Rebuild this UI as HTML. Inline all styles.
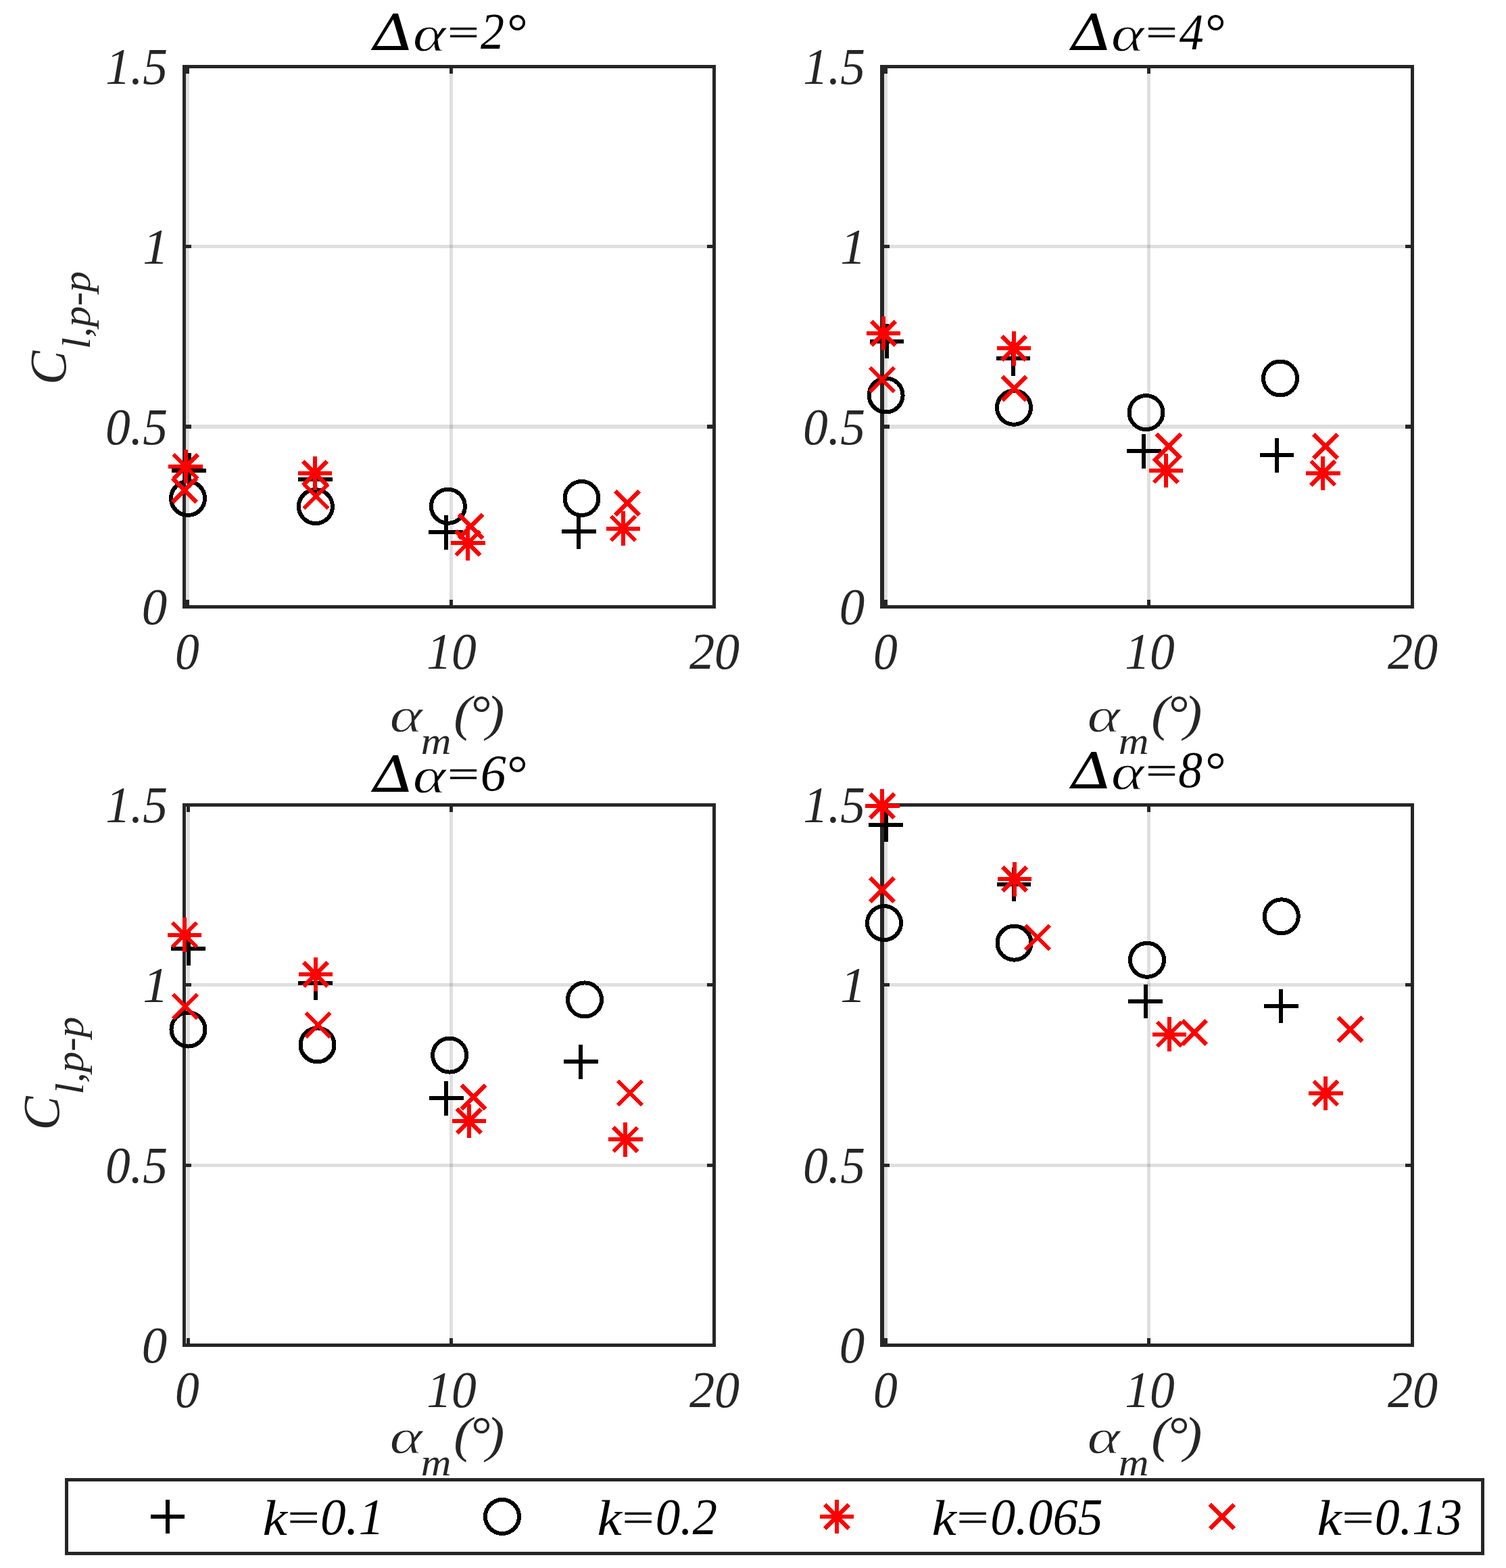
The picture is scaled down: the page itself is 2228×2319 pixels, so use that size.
<!DOCTYPE html>
<html lang="en">
<head>
<meta charset="utf-8">
<title>Peak-to-peak lift coefficient versus mean angle of attack</title>
<style>
html, body { margin: 0; padding: 0; background: #ffffff; }
body { width: 2228px; height: 2319px; }
svg { display: block; }
svg text { font-family: "Liberation Serif", "DejaVu Serif", serif; font-style: italic; }
</style>
</head>
<body>
<svg xmlns="http://www.w3.org/2000/svg" width="2228" height="2319" viewBox="0 0 2228 2319" role="img">
<desc>Four scatter plots of peak-to-peak lift coefficient C l,p-p against mean angle of attack αm(°) for Δα=2°, Δα=4°, Δα=6° and Δα=8°; legend: k=0.1, k=0.2, k=0.065, k=0.13.</desc>
<rect x="0" y="0" width="2228" height="2319" fill="#ffffff"/>
<g id="axes1">
<rect x="275" y="101" width="5" height="794" fill="#262626" fill-opacity="0.15"/>
<rect x="665" y="101" width="5" height="794" fill="#262626" fill-opacity="0.15"/>
<rect x="275" y="362" width="779" height="5" fill="#262626" fill-opacity="0.15"/>
<rect x="275" y="628" width="779" height="6" fill="#262626" fill-opacity="0.15"/>
<rect x="270" y="96" width="789" height="5" fill="#262626"/>
<rect x="270" y="895" width="789" height="5" fill="#262626"/>
<rect x="270" y="96" width="5" height="804" fill="#262626"/>
<rect x="1054" y="96" width="5" height="804" fill="#262626"/>
<rect x="275" y="101" width="5" height="8" fill="#262626"/>
<rect x="275" y="887" width="5" height="8" fill="#262626"/>
<rect x="665" y="101" width="5" height="8" fill="#262626"/>
<rect x="665" y="887" width="5" height="8" fill="#262626"/>
<rect x="275" y="362" width="8" height="5" fill="#262626"/>
<rect x="1046" y="362" width="8" height="5" fill="#262626"/>
<rect x="275" y="628" width="8" height="6" fill="#262626"/>
<rect x="1046" y="628" width="8" height="6" fill="#262626"/>
</g>
<g id="data1" shape-rendering="crispEdges">
<path d="M254.2 695.6H304.8M279.5 670.3V720.9" stroke="#000" stroke-width="6.0" fill="none"/>
<path d="M441 709H491.6M466.3 683.7V734.3" stroke="#000" stroke-width="6.0" fill="none"/>
<path d="M634.4 787.2H685M659.7 761.9V812.5" stroke="#000" stroke-width="6.0" fill="none"/>
<path d="M831 786.4H881.6M856.3 761.1V811.7" stroke="#000" stroke-width="6.0" fill="none"/>
<circle cx="278" cy="737" r="25" stroke="#000" stroke-width="6.0" fill="none"/>
<circle cx="466.9" cy="749.1" r="25" stroke="#000" stroke-width="6.0" fill="none"/>
<circle cx="662.9" cy="748.8" r="25" stroke="#000" stroke-width="6.0" fill="none"/>
<circle cx="860.5" cy="737" r="25" stroke="#000" stroke-width="6.0" fill="none"/>
<path d="M249.4 690.1H300M274.7 664.8V715.4M256.8 672.2L292.6 708M256.8 708L292.6 672.2" stroke="#f00" stroke-width="6.0" fill="none"/>
<path d="M440.8 700H491.4M466.1 674.7V725.3M448.2 682.1L484 717.9M448.2 717.9L484 682.1" stroke="#f00" stroke-width="6.0" fill="none"/>
<path d="M666.9 803.2H717.5M692.2 777.9V828.5M674.3 785.3L710.1 821.1M674.3 821.1L710.1 785.3" stroke="#f00" stroke-width="6.0" fill="none"/>
<path d="M896.7 781.7H947.3M922 756.4V807M904.1 763.8L939.9 799.6M904.1 799.6L939.9 763.8" stroke="#f00" stroke-width="6.0" fill="none"/>
<path d="M255.1 707.1L290.9 742.9M255.1 742.9L290.9 707.1" stroke="#f00" stroke-width="6.0" fill="none"/>
<path d="M449.5 716.1L485.3 751.9M449.5 751.9L485.3 716.1" stroke="#f00" stroke-width="6.0" fill="none"/>
<path d="M678.7 760.6L714.5 796.4M678.7 796.4L714.5 760.6" stroke="#f00" stroke-width="6.0" fill="none"/>
<path d="M910.1 726L945.9 761.8M910.1 761.8L945.9 726" stroke="#f00" stroke-width="6.0" fill="none"/>
</g>
<g id="labels1">
<text x="156.15" y="123.85" font-size="75.52" textLength="91.9" lengthAdjust="spacingAndGlyphs" fill="#262626">1.5</text>
<text x="211.21" y="389.86" font-size="74.12" textLength="37.91" lengthAdjust="spacingAndGlyphs" fill="#262626">1</text>
<text x="156.05" y="657.05" font-size="75.29" textLength="92" lengthAdjust="spacingAndGlyphs" fill="#262626">0.5</text>
<text x="209.8" y="923.3" font-size="75.67" textLength="37.5" lengthAdjust="spacingAndGlyphs" fill="#262626">0</text>
<text x="259.05" y="989.35" font-size="75.89" textLength="35.88" lengthAdjust="spacingAndGlyphs" fill="#262626">0</text>
<text x="631.15" y="989.35" font-size="75.89" textLength="73.68" lengthAdjust="spacingAndGlyphs" fill="#262626">10</text>
<text x="1019.9" y="989.35" font-size="75.89" textLength="74.29" lengthAdjust="spacingAndGlyphs" fill="#262626">20</text>
<text fill="#262626"><tspan x="576.55" y="1081.7" font-size="72.56" textLength="48.57" lengthAdjust="spacingAndGlyphs" stroke="#fff" stroke-width="0.8">α</tspan><tspan x="622.75" y="1114.95" font-size="57.77" textLength="44.8" lengthAdjust="spacingAndGlyphs">m</tspan><tspan x="671.15" y="1079.75" font-size="73.4" textLength="26.76" lengthAdjust="spacingAndGlyphs">(</tspan><tspan x="694.75" y="1080.8" font-size="76.49" textLength="30.59" lengthAdjust="spacingAndGlyphs">°</tspan><tspan x="719.55" y="1079.75" font-size="73.4" textLength="26.89" lengthAdjust="spacingAndGlyphs">)</tspan></text>
<text fill="#262626" transform="translate(97.4 568.7) rotate(-90)"><tspan x="-0.25" y="0" font-size="76.41" textLength="50.19" lengthAdjust="spacingAndGlyphs">C</tspan><tspan x="52.45" y="35.15" font-size="58.96" textLength="115.27" lengthAdjust="spacingAndGlyphs">l,p-p</tspan></text>
<g><text fill="#000" transform="matrix(1 0 -0.1584 1 11.483 0)"><tspan x="541.8" y="73.95" font-size="74.11" textLength="70.36" lengthAdjust="spacingAndGlyphs" style="font-family:'DejaVu Math TeX Gyre','DejaVu Serif','Liberation Serif',serif;font-style:normal">Δ</tspan></text><text fill="#000"><tspan x="610.65" y="74.6" font-size="74.68" textLength="48.79" lengthAdjust="spacingAndGlyphs" stroke="#fff" stroke-width="0.8">α</tspan><tspan x="656.9" y="66.6" font-size="58.09" textLength="55.68" lengthAdjust="spacingAndGlyphs" stroke="#000" stroke-width="0.6">=</tspan><tspan x="710.9" y="72.05" font-size="75.68" textLength="34.93" lengthAdjust="spacingAndGlyphs">2</tspan><tspan x="747.65" y="72.8" font-size="76.49" textLength="30.59" lengthAdjust="spacingAndGlyphs">°</tspan></text></g>
</g>
<g id="axes2">
<rect x="1308" y="101" width="5" height="794" fill="#262626" fill-opacity="0.15"/>
<rect x="1697" y="101" width="5" height="794" fill="#262626" fill-opacity="0.15"/>
<rect x="1308" y="362" width="779" height="5" fill="#262626" fill-opacity="0.15"/>
<rect x="1308" y="628" width="779" height="6" fill="#262626" fill-opacity="0.15"/>
<rect x="1302" y="96" width="790" height="5" fill="#262626"/>
<rect x="1302" y="895" width="790" height="5" fill="#262626"/>
<rect x="1302" y="96" width="6" height="804" fill="#262626"/>
<rect x="2087" y="96" width="5" height="804" fill="#262626"/>
<rect x="1308" y="101" width="5" height="8" fill="#262626"/>
<rect x="1308" y="887" width="5" height="8" fill="#262626"/>
<rect x="1697" y="101" width="5" height="8" fill="#262626"/>
<rect x="1697" y="887" width="5" height="8" fill="#262626"/>
<rect x="1308" y="362" width="8" height="5" fill="#262626"/>
<rect x="2079" y="362" width="8" height="5" fill="#262626"/>
<rect x="1308" y="628" width="8" height="6" fill="#262626"/>
<rect x="2079" y="628" width="8" height="6" fill="#262626"/>
</g>
<g id="data2" shape-rendering="crispEdges">
<path d="M1286.7 504.7H1337.3M1312 479.4V530" stroke="#000" stroke-width="6.0" fill="none"/>
<path d="M1473.7 530.4H1524.3M1499 505.1V555.7" stroke="#000" stroke-width="6.0" fill="none"/>
<path d="M1666.9 667.3H1717.5M1692.2 642V692.6" stroke="#000" stroke-width="6.0" fill="none"/>
<path d="M1863.7 673.3H1914.3M1889 648V698.6" stroke="#000" stroke-width="6.0" fill="none"/>
<circle cx="1310.6" cy="584.5" r="25" stroke="#000" stroke-width="6.0" fill="none"/>
<circle cx="1500" cy="602.8" r="25" stroke="#000" stroke-width="6.0" fill="none"/>
<circle cx="1695.5" cy="610.1" r="25" stroke="#000" stroke-width="6.0" fill="none"/>
<circle cx="1894" cy="559.5" r="25" stroke="#000" stroke-width="6.0" fill="none"/>
<path d="M1281.7 493H1332.3M1307 467.7V518.3M1289.1 475.1L1324.9 510.9M1289.1 510.9L1324.9 475.1" stroke="#f00" stroke-width="6.0" fill="none"/>
<path d="M1474.7 515.2H1525.3M1500 489.9V540.5M1482.1 497.3L1517.9 533.1M1482.1 533.1L1517.9 497.3" stroke="#f00" stroke-width="6.0" fill="none"/>
<path d="M1699.6 695.8H1750.2M1724.9 670.5V721.1M1707 677.9L1742.8 713.7M1707 713.7L1742.8 677.9" stroke="#f00" stroke-width="6.0" fill="none"/>
<path d="M1932 699.8H1982.6M1957.3 674.5V725.1M1939.4 681.9L1975.2 717.7M1939.4 717.7L1975.2 681.9" stroke="#f00" stroke-width="6.0" fill="none"/>
<path d="M1287.1 543.4L1322.9 579.2M1287.1 579.2L1322.9 543.4" stroke="#f00" stroke-width="6.0" fill="none"/>
<path d="M1482.5 556.6L1518.3 592.4M1482.5 592.4L1518.3 556.6" stroke="#f00" stroke-width="6.0" fill="none"/>
<path d="M1711.1 641.9L1746.9 677.7M1711.1 677.7L1746.9 641.9" stroke="#f00" stroke-width="6.0" fill="none"/>
<path d="M1943.1 642.1L1978.9 677.9M1943.1 677.9L1978.9 642.1" stroke="#f00" stroke-width="6.0" fill="none"/>
</g>
<g id="labels2">
<text x="1188.15" y="123.85" font-size="75.52" textLength="91.9" lengthAdjust="spacingAndGlyphs" fill="#262626">1.5</text>
<text x="1243.21" y="389.86" font-size="74.12" textLength="37.91" lengthAdjust="spacingAndGlyphs" fill="#262626">1</text>
<text x="1188.05" y="657.05" font-size="75.29" textLength="92" lengthAdjust="spacingAndGlyphs" fill="#262626">0.5</text>
<text x="1241.8" y="923.3" font-size="75.67" textLength="37.5" lengthAdjust="spacingAndGlyphs" fill="#262626">0</text>
<text x="1292.05" y="989.35" font-size="75.89" textLength="35.88" lengthAdjust="spacingAndGlyphs" fill="#262626">0</text>
<text x="1664.15" y="989.35" font-size="75.89" textLength="73.68" lengthAdjust="spacingAndGlyphs" fill="#262626">10</text>
<text x="2052.9" y="989.35" font-size="75.89" textLength="74.29" lengthAdjust="spacingAndGlyphs" fill="#262626">20</text>
<text fill="#262626"><tspan x="1608.55" y="1081.7" font-size="72.56" textLength="48.57" lengthAdjust="spacingAndGlyphs" stroke="#fff" stroke-width="0.8">α</tspan><tspan x="1654.75" y="1114.95" font-size="57.77" textLength="44.8" lengthAdjust="spacingAndGlyphs">m</tspan><tspan x="1703.15" y="1079.75" font-size="73.4" textLength="26.76" lengthAdjust="spacingAndGlyphs">(</tspan><tspan x="1726.75" y="1080.8" font-size="76.49" textLength="30.59" lengthAdjust="spacingAndGlyphs">°</tspan><tspan x="1751.55" y="1079.75" font-size="73.4" textLength="26.89" lengthAdjust="spacingAndGlyphs">)</tspan></text>
<g><text fill="#000" transform="translate(1033 0) matrix(1 0 -0.1584 1 11.483 0)"><tspan x="541.8" y="73.95" font-size="74.11" textLength="70.36" lengthAdjust="spacingAndGlyphs" style="font-family:'DejaVu Math TeX Gyre','DejaVu Serif','Liberation Serif',serif;font-style:normal">Δ</tspan></text><text fill="#000"><tspan x="1643.65" y="74.6" font-size="74.68" textLength="48.79" lengthAdjust="spacingAndGlyphs" stroke="#fff" stroke-width="0.8">α</tspan><tspan x="1689.9" y="66.6" font-size="58.09" textLength="55.68" lengthAdjust="spacingAndGlyphs" stroke="#000" stroke-width="0.6">=</tspan><tspan x="1744.75" y="72.95" font-size="76.06" textLength="36.02" lengthAdjust="spacingAndGlyphs">4</tspan><tspan x="1780.65" y="72.8" font-size="76.49" textLength="30.59" lengthAdjust="spacingAndGlyphs">°</tspan></text></g>
</g>
<g id="axes3">
<rect x="276" y="1193" width="5" height="794" fill="#262626" fill-opacity="0.15"/>
<rect x="665" y="1193" width="5" height="794" fill="#262626" fill-opacity="0.15"/>
<rect x="275" y="1454" width="779" height="5" fill="#262626" fill-opacity="0.15"/>
<rect x="275" y="1721" width="779" height="5" fill="#262626" fill-opacity="0.15"/>
<rect x="270" y="1188" width="789" height="5" fill="#262626"/>
<rect x="270" y="1987" width="789" height="5" fill="#262626"/>
<rect x="270" y="1188" width="5" height="804" fill="#262626"/>
<rect x="1054" y="1188" width="5" height="804" fill="#262626"/>
<rect x="276" y="1193" width="5" height="8" fill="#262626"/>
<rect x="276" y="1979" width="5" height="8" fill="#262626"/>
<rect x="665" y="1193" width="5" height="8" fill="#262626"/>
<rect x="665" y="1979" width="5" height="8" fill="#262626"/>
<rect x="275" y="1454" width="8" height="5" fill="#262626"/>
<rect x="1046" y="1454" width="8" height="5" fill="#262626"/>
<rect x="275" y="1721" width="8" height="5" fill="#262626"/>
<rect x="1046" y="1721" width="8" height="5" fill="#262626"/>
</g>
<g id="data3" shape-rendering="crispEdges">
<path d="M253.4 1402.8H304M278.7 1377.5V1428.1" stroke="#000" stroke-width="6.0" fill="none"/>
<path d="M441.4 1453.7H492M466.7 1428.4V1479" stroke="#000" stroke-width="6.0" fill="none"/>
<path d="M634.9 1624.2H685.5M660.2 1598.9V1649.5" stroke="#000" stroke-width="6.0" fill="none"/>
<path d="M833.9 1570.3H884.5M859.2 1545V1595.6" stroke="#000" stroke-width="6.0" fill="none"/>
<circle cx="278.5" cy="1522.5" r="25" stroke="#000" stroke-width="6.0" fill="none"/>
<circle cx="469.5" cy="1545.4" r="25" stroke="#000" stroke-width="6.0" fill="none"/>
<circle cx="665.1" cy="1560.6" r="25" stroke="#000" stroke-width="6.0" fill="none"/>
<circle cx="865" cy="1478.4" r="25" stroke="#000" stroke-width="6.0" fill="none"/>
<path d="M247.5 1382.5H298.1M272.8 1357.2V1407.8M254.9 1364.6L290.7 1400.4M254.9 1400.4L290.7 1364.6" stroke="#f00" stroke-width="6.0" fill="none"/>
<path d="M441.7 1441H492.3M467 1415.7V1466.3M449.1 1423.1L484.9 1458.9M449.1 1458.9L484.9 1423.1" stroke="#f00" stroke-width="6.0" fill="none"/>
<path d="M668.5 1658H719.1M693.8 1632.7V1683.3M675.9 1640.1L711.7 1675.9M675.9 1675.9L711.7 1640.1" stroke="#f00" stroke-width="6.0" fill="none"/>
<path d="M899.9 1685.2H950.5M925.2 1659.9V1710.5M907.3 1667.3L943.1 1703.1M907.3 1703.1L943.1 1667.3" stroke="#f00" stroke-width="6.0" fill="none"/>
<path d="M256.1 1470.6L291.9 1506.4M256.1 1506.4L291.9 1470.6" stroke="#f00" stroke-width="6.0" fill="none"/>
<path d="M452.6 1498.1L488.4 1533.9M452.6 1533.9L488.4 1498.1" stroke="#f00" stroke-width="6.0" fill="none"/>
<path d="M682.7 1604.6L718.5 1640.4M682.7 1640.4L718.5 1604.6" stroke="#f00" stroke-width="6.0" fill="none"/>
<path d="M914.1 1598.7L949.9 1634.5M914.1 1634.5L949.9 1598.7" stroke="#f00" stroke-width="6.0" fill="none"/>
</g>
<g id="labels3">
<text x="156.15" y="1215.85" font-size="75.52" textLength="91.9" lengthAdjust="spacingAndGlyphs" fill="#262626">1.5</text>
<text x="211.21" y="1481.86" font-size="74.12" textLength="37.91" lengthAdjust="spacingAndGlyphs" fill="#262626">1</text>
<text x="156.05" y="1749.05" font-size="75.29" textLength="92" lengthAdjust="spacingAndGlyphs" fill="#262626">0.5</text>
<text x="209.8" y="2015.3" font-size="75.67" textLength="37.5" lengthAdjust="spacingAndGlyphs" fill="#262626">0</text>
<text x="259.05" y="2081.35" font-size="75.89" textLength="35.88" lengthAdjust="spacingAndGlyphs" fill="#262626">0</text>
<text x="631.15" y="2081.35" font-size="75.89" textLength="73.68" lengthAdjust="spacingAndGlyphs" fill="#262626">10</text>
<text x="1019.9" y="2081.35" font-size="75.89" textLength="74.29" lengthAdjust="spacingAndGlyphs" fill="#262626">20</text>
<text fill="#262626"><tspan x="576.55" y="2148.7" font-size="72.56" textLength="48.57" lengthAdjust="spacingAndGlyphs" stroke="#fff" stroke-width="0.8">α</tspan><tspan x="622.75" y="2181.95" font-size="57.77" textLength="44.8" lengthAdjust="spacingAndGlyphs">m</tspan><tspan x="671.15" y="2146.75" font-size="73.4" textLength="26.76" lengthAdjust="spacingAndGlyphs">(</tspan><tspan x="694.75" y="2147.8" font-size="76.49" textLength="30.59" lengthAdjust="spacingAndGlyphs">°</tspan><tspan x="719.55" y="2146.75" font-size="73.4" textLength="26.89" lengthAdjust="spacingAndGlyphs">)</tspan></text>
<text fill="#262626" transform="translate(87.4 1671.2) rotate(-90)"><tspan x="-0.25" y="0" font-size="76.41" textLength="50.19" lengthAdjust="spacingAndGlyphs">C</tspan><tspan x="52.45" y="35.15" font-size="58.96" textLength="115.27" lengthAdjust="spacingAndGlyphs">l,p-p</tspan></text>
<g><text fill="#000" transform="translate(0 1097) matrix(1 0 -0.1584 1 11.483 0)"><tspan x="541.8" y="73.95" font-size="74.11" textLength="70.36" lengthAdjust="spacingAndGlyphs" style="font-family:'DejaVu Math TeX Gyre','DejaVu Serif','Liberation Serif',serif;font-style:normal">Δ</tspan></text><text fill="#000"><tspan x="610.65" y="1171.6" font-size="74.68" textLength="48.79" lengthAdjust="spacingAndGlyphs" stroke="#fff" stroke-width="0.8">α</tspan><tspan x="656.9" y="1163.6" font-size="58.09" textLength="55.68" lengthAdjust="spacingAndGlyphs" stroke="#000" stroke-width="0.6">=</tspan><tspan x="710.8" y="1169.35" font-size="76.27" textLength="37.94" lengthAdjust="spacingAndGlyphs">6</tspan><tspan x="747.65" y="1169.8" font-size="76.49" textLength="30.59" lengthAdjust="spacingAndGlyphs">°</tspan></text></g>
</g>
<g id="axes4">
<rect x="1308" y="1193" width="5" height="794" fill="#262626" fill-opacity="0.15"/>
<rect x="1697" y="1193" width="5" height="794" fill="#262626" fill-opacity="0.15"/>
<rect x="1308" y="1454" width="779" height="5" fill="#262626" fill-opacity="0.15"/>
<rect x="1308" y="1721" width="779" height="5" fill="#262626" fill-opacity="0.15"/>
<rect x="1302" y="1188" width="790" height="5" fill="#262626"/>
<rect x="1302" y="1987" width="790" height="5" fill="#262626"/>
<rect x="1302" y="1188" width="6" height="804" fill="#262626"/>
<rect x="2087" y="1188" width="5" height="804" fill="#262626"/>
<rect x="1308" y="1193" width="5" height="8" fill="#262626"/>
<rect x="1308" y="1979" width="5" height="8" fill="#262626"/>
<rect x="1697" y="1193" width="5" height="8" fill="#262626"/>
<rect x="1697" y="1979" width="5" height="8" fill="#262626"/>
<rect x="1308" y="1454" width="8" height="5" fill="#262626"/>
<rect x="2079" y="1454" width="8" height="5" fill="#262626"/>
<rect x="1308" y="1721" width="8" height="5" fill="#262626"/>
<rect x="2079" y="1721" width="8" height="5" fill="#262626"/>
</g>
<g id="data4" shape-rendering="crispEdges">
<path d="M1285.4 1219.7H1336M1310.7 1194.4V1245" stroke="#000" stroke-width="6.0" fill="none"/>
<path d="M1474.7 1308H1525.3M1500 1282.7V1333.3" stroke="#000" stroke-width="6.0" fill="none"/>
<path d="M1669.2 1481H1719.8M1694.5 1455.7V1506.3" stroke="#000" stroke-width="6.0" fill="none"/>
<path d="M1869.9 1488H1920.5M1895.2 1462.7V1513.3" stroke="#000" stroke-width="6.0" fill="none"/>
<circle cx="1308" cy="1365.1" r="25" stroke="#000" stroke-width="6.0" fill="none"/>
<circle cx="1500.5" cy="1394.6" r="25" stroke="#000" stroke-width="6.0" fill="none"/>
<circle cx="1697" cy="1419.8" r="25" stroke="#000" stroke-width="6.0" fill="none"/>
<circle cx="1895.8" cy="1355.3" r="25" stroke="#000" stroke-width="6.0" fill="none"/>
<path d="M1279.9 1192H1330.5M1305.2 1166.7V1217.3M1287.3 1174.1L1323.1 1209.9M1287.3 1209.9L1323.1 1174.1" stroke="#f00" stroke-width="6.0" fill="none"/>
<path d="M1475.7 1300.2H1526.3M1501 1274.9V1325.5M1483.1 1282.3L1518.9 1318.1M1483.1 1318.1L1518.9 1282.3" stroke="#f00" stroke-width="6.0" fill="none"/>
<path d="M1704.7 1529.7H1755.3M1730 1504.4V1555M1712.1 1511.8L1747.9 1547.6M1712.1 1547.6L1747.9 1511.8" stroke="#f00" stroke-width="6.0" fill="none"/>
<path d="M1935.9 1616.8H1986.5M1961.2 1591.5V1642.1M1943.3 1598.9L1979.1 1634.7M1943.3 1634.7L1979.1 1598.9" stroke="#f00" stroke-width="6.0" fill="none"/>
<path d="M1287.1 1298.1L1322.9 1333.9M1287.1 1333.9L1322.9 1298.1" stroke="#f00" stroke-width="6.0" fill="none"/>
<path d="M1517.2 1368.7L1553 1404.5M1517.2 1404.5L1553 1368.7" stroke="#f00" stroke-width="6.0" fill="none"/>
<path d="M1749 1509.1L1784.8 1544.9M1749 1544.9L1784.8 1509.1" stroke="#f00" stroke-width="6.0" fill="none"/>
<path d="M1979.8 1504.6L2015.6 1540.4M1979.8 1540.4L2015.6 1504.6" stroke="#f00" stroke-width="6.0" fill="none"/>
</g>
<g id="labels4">
<text x="1188.15" y="1215.85" font-size="75.52" textLength="91.9" lengthAdjust="spacingAndGlyphs" fill="#262626">1.5</text>
<text x="1243.21" y="1481.86" font-size="74.12" textLength="37.91" lengthAdjust="spacingAndGlyphs" fill="#262626">1</text>
<text x="1188.05" y="1749.05" font-size="75.29" textLength="92" lengthAdjust="spacingAndGlyphs" fill="#262626">0.5</text>
<text x="1241.8" y="2015.3" font-size="75.67" textLength="37.5" lengthAdjust="spacingAndGlyphs" fill="#262626">0</text>
<text x="1292.05" y="2081.35" font-size="75.89" textLength="35.88" lengthAdjust="spacingAndGlyphs" fill="#262626">0</text>
<text x="1664.15" y="2081.35" font-size="75.89" textLength="73.68" lengthAdjust="spacingAndGlyphs" fill="#262626">10</text>
<text x="2052.9" y="2081.35" font-size="75.89" textLength="74.29" lengthAdjust="spacingAndGlyphs" fill="#262626">20</text>
<text fill="#262626"><tspan x="1608.55" y="2148.7" font-size="72.56" textLength="48.57" lengthAdjust="spacingAndGlyphs" stroke="#fff" stroke-width="0.8">α</tspan><tspan x="1654.75" y="2181.95" font-size="57.77" textLength="44.8" lengthAdjust="spacingAndGlyphs">m</tspan><tspan x="1703.15" y="2146.75" font-size="73.4" textLength="26.76" lengthAdjust="spacingAndGlyphs">(</tspan><tspan x="1726.75" y="2147.8" font-size="76.49" textLength="30.59" lengthAdjust="spacingAndGlyphs">°</tspan><tspan x="1751.55" y="2146.75" font-size="73.4" textLength="26.89" lengthAdjust="spacingAndGlyphs">)</tspan></text>
<g><text fill="#000" transform="translate(1033 1092) matrix(1 0 -0.1584 1 11.483 0)"><tspan x="541.8" y="73.95" font-size="74.11" textLength="70.36" lengthAdjust="spacingAndGlyphs" style="font-family:'DejaVu Math TeX Gyre','DejaVu Serif','Liberation Serif',serif;font-style:normal">Δ</tspan></text><text fill="#000"><tspan x="1643.65" y="1166.6" font-size="74.68" textLength="48.79" lengthAdjust="spacingAndGlyphs" stroke="#fff" stroke-width="0.8">α</tspan><tspan x="1689.9" y="1158.6" font-size="58.09" textLength="55.68" lengthAdjust="spacingAndGlyphs" stroke="#000" stroke-width="0.6">=</tspan><tspan x="1743.35" y="1164.35" font-size="75.89" textLength="35.64" lengthAdjust="spacingAndGlyphs">8</tspan><tspan x="1780.65" y="1164.8" font-size="76.49" textLength="30.59" lengthAdjust="spacingAndGlyphs">°</tspan></text></g>
</g>
<g id="legend">
<rect x="96" y="2186" width="2100" height="114" fill="#fff"/>
<rect x="96" y="2186" width="2100" height="5" fill="#262626"/>
<rect x="96" y="2295" width="2100" height="5" fill="#262626"/>
<rect x="96" y="2186" width="5" height="114" fill="#262626"/>
<rect x="2191" y="2186" width="5" height="114" fill="#262626"/>
<g shape-rendering="crispEdges">
<path d="M222.5 2243H273.1M247.8 2217.7V2268.3" stroke="#000" stroke-width="6.0" fill="none"/>
<circle cx="743" cy="2243" r="25" stroke="#000" stroke-width="6.0" fill="none"/>
<path d="M1212.8 2243H1263.4M1238.1 2217.7V2268.3M1220.2 2225.1L1256 2260.9M1220.2 2260.9L1256 2225.1" stroke="#f00" stroke-width="6.0" fill="none"/>
<path d="M1789.9 2225.1L1825.7 2260.9M1789.9 2260.9L1825.7 2225.1" stroke="#f00" stroke-width="6.0" fill="none"/>
</g>
<text fill="#000"><tspan x="388.4" y="2269.55" font-size="74.57" textLength="36.41" lengthAdjust="spacingAndGlyphs">k</tspan><tspan x="420.6" y="2263.85" font-size="58.32" textLength="55.82" lengthAdjust="spacingAndGlyphs" stroke="#000" stroke-width="0.6">=</tspan><tspan x="473.9" y="2269.1" font-size="76.11" textLength="94.26" lengthAdjust="spacingAndGlyphs">0.1</tspan></text>
<text fill="#000"><tspan x="883.4" y="2269.55" font-size="74.57" textLength="36.41" lengthAdjust="spacingAndGlyphs">k</tspan><tspan x="915.6" y="2263.85" font-size="58.32" textLength="55.82" lengthAdjust="spacingAndGlyphs" stroke="#000" stroke-width="0.6">=</tspan><tspan x="969.65" y="2269.1" font-size="76.11" textLength="91.38" lengthAdjust="spacingAndGlyphs">0.2</tspan></text>
<text fill="#000"><tspan x="1378.4" y="2269.55" font-size="74.57" textLength="36.41" lengthAdjust="spacingAndGlyphs">k</tspan><tspan x="1410.6" y="2263.85" font-size="58.32" textLength="55.82" lengthAdjust="spacingAndGlyphs" stroke="#000" stroke-width="0.6">=</tspan><tspan x="1465.15" y="2269.1" font-size="76.11" textLength="166.32" lengthAdjust="spacingAndGlyphs">0.065</tspan></text>
<text fill="#000"><tspan x="1948.4" y="2269.55" font-size="74.57" textLength="36.41" lengthAdjust="spacingAndGlyphs">k</tspan><tspan x="1980.6" y="2263.85" font-size="58.32" textLength="55.82" lengthAdjust="spacingAndGlyphs" stroke="#000" stroke-width="0.6">=</tspan><tspan x="2033.85" y="2269.1" font-size="76.11" textLength="129.32" lengthAdjust="spacingAndGlyphs">0.13</tspan></text>
</g>
</svg>
</body>
</html>
